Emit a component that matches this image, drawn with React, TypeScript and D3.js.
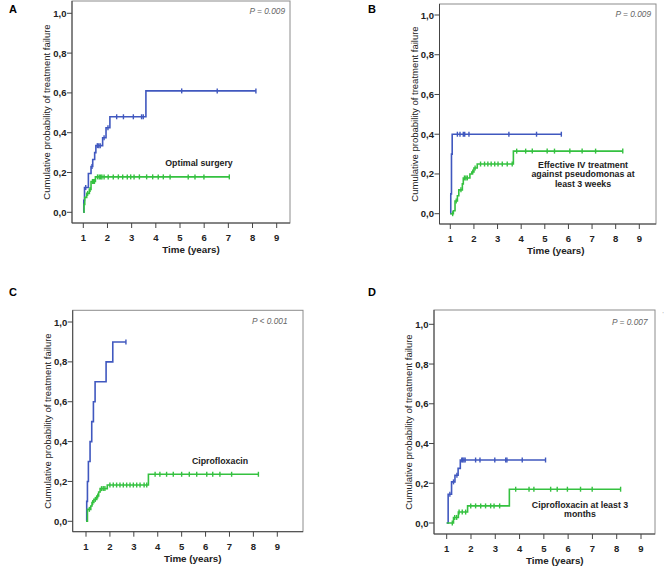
import React from 'react';
import * as d3 from 'd3';

// Kaplan-Meier curves (time in years, cumulative probability)
const aBlueT = [1.0, 1.02, 1.05, 1.21, 1.32, 1.39, 1.47, 1.52, 1.8, 1.94, 2.1, 3.59];
const aBlueP = [0, 0.06, 0.125, 0.195, 0.23, 0.265, 0.3, 0.335, 0.375, 0.425, 0.48, 0.61];
const aBlueCens = [1.1, 1.36, 1.58, 1.64, 1.7, 1.86, 2.02, 2.38, 2.66, 3.07, 3.41, 3.48, 5.07, 6.54, 8.14];
const aGreenT = [1.0, 1.03, 1.06, 1.14, 1.25, 1.32, 1.5];
const aGreenP = [0, 0.04, 0.075, 0.095, 0.115, 0.155, 0.178];
const aGreenCens = [1.18, 1.28, 1.38, 1.42, 1.46, 1.59, 1.66, 1.72, 1.77, 1.86, 2.03, 2.24, 2.45, 2.63, 2.82, 2.96, 3.1, 3.32, 3.62, 3.87, 4.1, 4.31, 4.59, 5.34, 5.62, 5.99, 7.04];

const bBlueT = [1.0, 1.02, 1.05, 1.08];
const bBlueP = [0, 0.1, 0.3, 0.4];
const bBlueCens = [1.3, 1.41, 1.55, 1.61, 1.79, 3.48, 4.65, 5.7];
const bGreenT = [1.0, 1.13, 1.2, 1.3, 1.36, 1.51, 1.55, 1.83, 1.91, 2.0, 2.14, 3.67];
const bGreenP = [0, 0.015, 0.064, 0.09, 0.12, 0.15, 0.18, 0.2, 0.21, 0.23, 0.25, 0.315];
const bGreenCens = [1.1, 1.25, 1.45, 1.6, 1.66, 1.72, 1.95, 2.05, 2.28, 2.45, 2.59, 2.73, 2.88, 3.02, 3.2, 3.41, 3.62, 3.81, 4.19, 4.47, 5.1, 5.41, 6.06, 6.58, 7.15, 8.3];

const cBlueT = [1.0, 1.03, 1.06, 1.1, 1.17, 1.24, 1.31, 1.38, 1.84, 2.12];
const cBlueP = [0, 0.1, 0.2, 0.3, 0.4, 0.5, 0.6, 0.7, 0.8, 0.9];
const cBlueCens = [2.67];
const cGreenT = [1.0, 1.06, 1.2, 1.25, 1.33, 1.45, 1.53, 1.59, 1.89, 3.61];
const cGreenP = [0, 0.06, 0.077, 0.094, 0.11, 0.127, 0.147, 0.164, 0.182, 0.236];
const cGreenCens = [1.14, 1.28, 1.39, 1.49, 1.65, 1.72, 1.79, 2.0, 2.14, 2.28, 2.42, 2.56, 2.7, 2.84, 2.98, 3.12, 3.26, 3.43, 3.54, 3.89, 4.09, 4.37, 4.65, 5.0, 5.32, 5.63, 6.05, 6.3, 6.6, 7.09, 8.21];

const dBlueT = [1.0, 1.06, 1.2, 1.34, 1.47, 1.56];
const dBlueP = [0, 0.145, 0.207, 0.24, 0.275, 0.317];
const dBlueCens = [1.13, 1.28, 1.42, 1.62, 1.66, 1.71, 1.76, 2.19, 2.37, 2.98, 3.43, 3.48, 4.11, 5.07];
const dGreenT = [1.0, 1.28, 1.48, 1.86, 3.58];
const dGreenP = [0, 0.028, 0.055, 0.086, 0.17];
const dGreenCens = [1.23, 1.33, 1.41, 1.51, 1.64, 1.78, 1.99, 2.19, 2.4, 2.6, 2.81, 2.95, 3.18, 3.84, 4.39, 4.59, 5.28, 5.55, 5.97, 6.51, 6.99, 8.16];

const xTicks = [1, 2, 3, 4, 5, 6, 7, 8, 9];
const yTicks = [0, 0.2, 0.4, 0.6, 0.8, 1.0];
const yTickLabels = ['0,0', '0,2', '0,4', '0,6', '0,8', '1,0'];

const BLUE = '#4058bf';
const GREEN = '#35c140';
const FONT = 'Liberation Sans, Arial, sans-serif';

const panels = [
  {
    letter: 'A', lx: 13, ly: 9, pText: 'P = 0.009', px: 285, py: 11,
    frame: { l: 72, t: 1, r: 290, b: 223 }, x1: 83.3, x9: 276.7, y0: 212.3, y1: 13.3,
    note: ['Optimal surgery'], nx: 199, ny: 163,
    curves: [
      { t: aBlueT, p: aBlueP, c: aBlueCens, color: BLUE },
      { t: aGreenT, p: aGreenP, c: aGreenCens, color: GREEN },
    ],
  },
  {
    letter: 'B', lx: 372, ly: 8.5, pText: 'P = 0.009', px: 651, py: 13.5,
    frame: { l: 439.5, t: 4, r: 656, b: 224 }, x1: 450.3, x9: 639.3, y0: 213.7, y1: 15,
    note: ['Effective IV treatment', 'against pseudomonas at', 'least 3 weeks'], nx: 583, ny: 165,
    curves: [
      { t: bBlueT, p: bBlueP, c: bBlueCens, color: BLUE },
      { t: bGreenT, p: bGreenP, c: bGreenCens, color: GREEN },
    ],
  },
  {
    letter: 'C', lx: 13, ly: 292, pText: 'P < 0.001', px: 287.5, py: 321,
    frame: { l: 72.7, t: 310.3, r: 303, b: 531.7 }, x1: 86, x9: 277.3, y0: 521.3, y1: 322,
    note: ['Ciprofloxacin'], nx: 220, ny: 461,
    curves: [
      { t: cBlueT, p: cBlueP, c: cBlueCens, color: BLUE },
      { t: cGreenT, p: cGreenP, c: cGreenCens, color: GREEN },
    ],
  },
  {
    letter: 'D', lx: 372, ly: 292, pText: 'P = 0.007', px: 647.5, py: 322,
    frame: { l: 434, t: 310, r: 655, b: 534 }, x1: 446.7, x9: 641, y0: 523, y1: 324.3,
    note: ['Ciprofloxacin at least 3', 'months'], nx: 580, ny: 504.5,
    curves: [
      { t: dBlueT, p: dBlueP, c: dBlueCens, color: BLUE },
      { t: dGreenT, p: dGreenP, c: dGreenCens, color: GREEN },
    ],
  },
];

function stepValue(t: number[], p: number[], at: number) {
  let v = p[0];
  for (let i = 0; i < t.length; i++) if (t[i] <= at) v = p[i];
  return v;
}

function Panel({ cfg }: { cfg: any }) {
  const { frame } = cfg;
  const x = d3.scaleLinear().domain([1, 9]).range([cfg.x1, cfg.x9]);
  const y = d3.scaleLinear().domain([0, 1]).range([cfg.y0, cfg.y1]);
  const line = d3.line<[number, number]>()
    .x(d => x(d[0]))
    .y(d => y(d[1]))
    .curve(d3.curveStepAfter);

  return (
    <g fontFamily={FONT}>
      <text x={cfg.lx} y={cfg.ly} fontSize={11} fontWeight="bold" textAnchor="middle" dominantBaseline="central">{cfg.letter}</text>
      <rect x={frame.l} y={frame.t} width={frame.r - frame.l} height={frame.b - frame.t} fill="#fff" stroke="#8c8c8c" strokeWidth={1} />
      <line x1={frame.l} x2={frame.l} y1={frame.t} y2={frame.b} stroke="#444" />
      <line x1={frame.l} x2={frame.r} y1={frame.b} y2={frame.b} stroke="#444" />
      {yTicks.map((v, i) => (
        <g key={'y' + i}>
          <line x1={frame.l - 5} x2={frame.l} y1={y(v)} y2={y(v)} stroke="#444" />
          <text x={frame.l - 5.5} y={y(v)} fontSize={9.5} fontWeight="bold" textAnchor="end" dominantBaseline="central" fill="#222">{yTickLabels[i]}</text>
        </g>
      ))}
      {xTicks.map(v => (
        <g key={'x' + v}>
          <line x1={x(v)} x2={x(v)} y1={frame.b} y2={frame.b + 5} stroke="#444" />
          <text x={x(v)} y={frame.b + 14.5} fontSize={9.5} fontWeight="bold" textAnchor="middle" dominantBaseline="central" fill="#222">{v}</text>
        </g>
      ))}
      <text x={x(5) + 11} y={frame.b + 26.5} fontSize={9.8} fontWeight="bold" textAnchor="middle" dominantBaseline="central" fill="#222">Time (years)</text>
      <text transform={`translate(${frame.l - 25.5},${(frame.t + frame.b) / 2}) rotate(-90)`} fontSize={9.5} textAnchor="middle" dominantBaseline="central" fill="#222">Cumulative probability of treatment failure</text>
      <text x={cfg.px} y={cfg.py} fontSize={8.3} fontStyle="italic" textAnchor="end" dominantBaseline="central" fill="#666">{cfg.pText}</text>
      {cfg.curves.map((cv: any, ci: number) => {
        const end = Math.max(d3.max(cv.c as number[]) ?? 0, cv.t[cv.t.length - 1]);
        const pts: [number, number][] = cv.t.map((tt: number, i: number) => [tt, cv.p[i]]);
        pts.push([end, cv.p[cv.p.length - 1]]);
        return (
          <g key={ci}>
            <path d={line(pts) ?? ''} fill="none" stroke={cv.color} strokeWidth={1.6} />
            {cv.c.map((ct: number, k: number) => {
              const yy = y(stepValue(cv.t, cv.p, ct));
              return <line key={k} x1={x(ct)} x2={x(ct)} y1={yy - 2.5} y2={yy + 2.5} stroke={cv.color} strokeWidth={1.4} />;
            })}
          </g>
        );
      })}
      {cfg.note.map((s: string, i: number) => (
        <text key={i} x={cfg.nx} y={cfg.ny + i * 9.4} fontSize={8.8} fontWeight="bold" textAnchor="middle" dominantBaseline="central" fill="#222">{s}</text>
      ))}
    </g>
  );
}

export default function App() {
  return (
    <svg width={669} height={572} style={{ position: 'absolute', left: 0, top: 0, background: '#fff' }}>
      <rect width={669} height={572} fill="#fff" />
      {panels.map(p => <Panel key={p.letter} cfg={p} />)}
      <text x={662.5} y={316} fontSize={6} fill="#999" fontFamily={FONT}>'</text>
    </svg>
  );
}
